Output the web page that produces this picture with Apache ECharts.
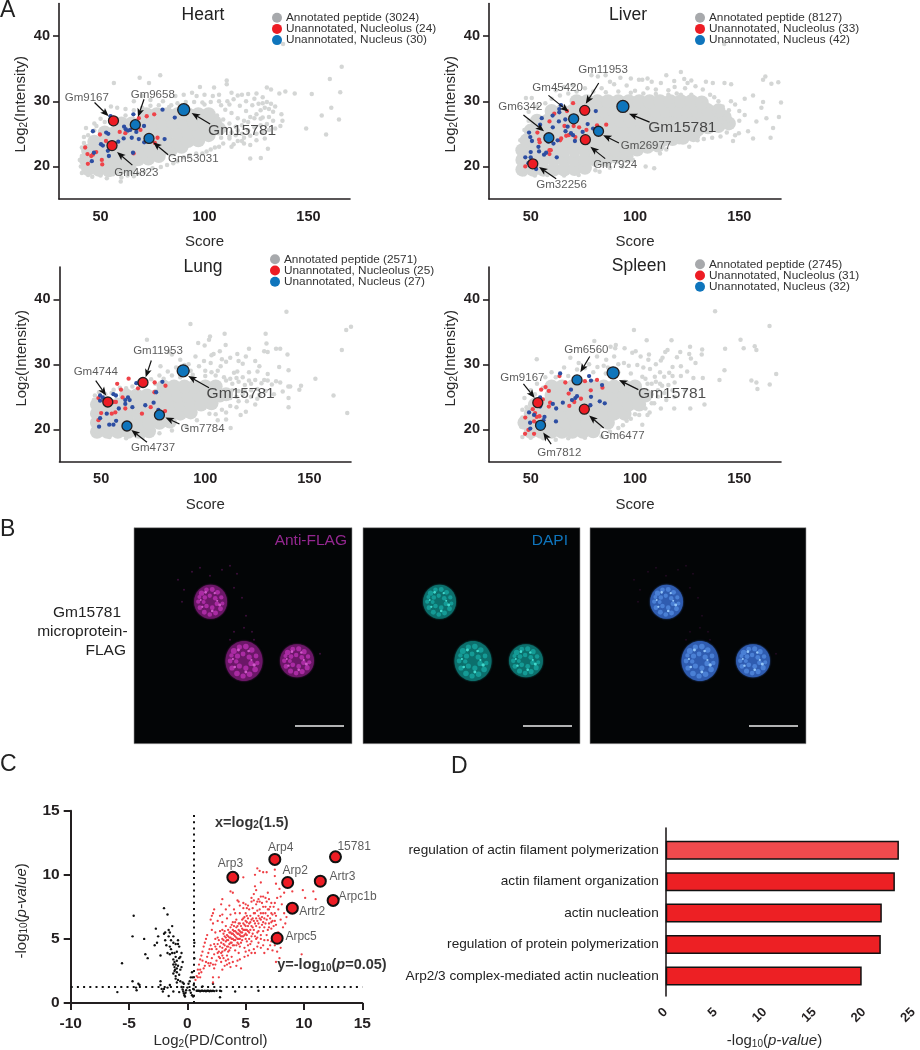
<!DOCTYPE html>
<html><head><meta charset="utf-8">
<style>html,body{margin:0;padding:0;background:#fff}#c{width:920px;height:1050px}</style>
<script src="https://cdn.jsdelivr.net/npm/echarts@6/dist/echarts.min.js"></script>
</head><body><div id="c"></div>
<script>
// ---------- Panel A data ----------
const scoreTicks=[50,100,150], intensityTicks=[20,30,40];
const heartLegend=['Annotated peptide (3024)','Unannotated, Nucleolus (24)','Unannotated, Nucleus (30)'];
const liverLegend=['Annotated peptide (8127)','Unannotated, Nucleolus (33)','Unannotated, Nucleus (42)'];
const lungLegend=['Annotated peptide (2571)','Unannotated, Nucleolus (25)','Unannotated, Nucleus (27)'];
const spleenLegend=['Annotated peptide (2745)','Unannotated, Nucleolus (31)','Unannotated, Nucleus (32)'];

const heartCore=[[44,19.6],[49,19.5],[54,19.4],[59,19.7],[64,19.8],[43,21],[48,21],[53,20.9],[58,21],[63,21],[68,21.1],[73,21.2],[78,21.6],
[44,22.4],[49,22.4],[54,22.4],[59,22.4],[64,22.4],[69,22.4],[74,22.4],[79,22.5],[84,22.6],[89,23],
[47,23.8],[52,23.8],[57,23.8],[62,23.8],[67,23.8],[72,23.8],[77,23.8],[82,23.8],[87,23.8],[92,23.9],[97,24],[102,24.8],
[52,25.2],[57,25.2],[62,25.2],[67,25.2],[72,25.2],[77,25.2],[82,25.2],[87,25.2],[92,25.2],[97,25.2],[102,25.4],[107,25.8],
[60,26.6],[65,26.6],[70,26.6],[75,26.6],[80,26.6],[85,26.6],[90,26.6],[95,26.6],[100,26.6],[105,26.8],
[72,28],[77,28],[82,28],[87,28],[92,28],[97,28],[102,28]];
const heartGray=[[166,35.3],[160.3,33.4],[165.3,31.4],[161,29],[156.4,27.8],[164.7,27.2],[158.5,24.9],[148.9,25.8],[151.6,31.1],[143.4,31.2],[138.9,31.5],[136,31.2],[137.8,38.8],[130,32.1],[132,31.8],[130.5,22.7],[127.1,21.3],[122,21.2],[110.7,33.2],[110.7,32.6],[104.6,32.1],[97.8,32.2],[78.7,34],[68.8,33.6],[56.4,32.8],[59.7,17.7],[73.3,32.8],[96.2,30.8],
[128,29.7],[130,29.9],[132,29.6],[134,29.2],[129,29],[131,28.8],[133,28.4],[127,28.6],[125,28],[122,27.6],[119,27],[116,27.4],[113,28.2],[110,28.7],[108,29.4],[111,30],[114,30.3],[117,29.3],[120,28.5],[123,29.4],[125,31.2],[121,31.1],[118,31],[113,31.3],[107,31],[104,30.8],[100,31],[94,31.3],[90,31],[86,30.8],[137,28],[137.5,27],[136.5,26.2],[133,27],[130,26.5],[127,26.3],[124,26],[121,25.5],[118,25],[115,24.8],[112,24.3],[116,23.9],[119,23.5],[113,23],[107,23],[103,22.6],[99,22],[93,21.7],[87,20.8],[82,20.2],[75,19.7],[68,18.9],[63,18.6],[56,18.8],[50,18.6],[44,18.7],[41,19],[40.5,20],[41,21.6],[41,22.9],[42,24.5],[43,25.9],[47,26.6],[50,27.3],[52,28.3],[55,29.2],[58,29],[62,28.8],[66,30],[70,30.8],[74,30.2],[80,30],[84,29.4],[47,25.5],
[100,29.5],[103,28.6],[106,27.8],[109,27.2],[112,26.6],[115,26.1],[118,26.3],[121,26.8],[124,27.4],[127,27.3],[110,25.6],[113,25.2],[116,25.5],[119,24.4],[122,24.7],[125,25],[128,25.3],[131,25.6],[134,25.8],[128,27.5],[131,27.6],[126,29.6],[128,30.6],[124,30.4],[120,30],[116,30.9],[112,29.5],[107,30],[103,29.9],[99,29.8],[95,29.9],[91,29.9],[87,29.7],[83,29.1],[78,29.4],[74,29.3],[70,29],[66,28.6],[62,27.8],[57,27.2],[52,26.8],[48,26.2],[44,24.8],[42,23.6],[40,21],[46,18.4],[53,18.2],[60,18.3],[66,18.5],[71,19.2],[79,19.9],[85,20.5],[90,21.4],[96,22],[101,22.3],[105,22.9],[109,23.5],[112,24.6],[108,24.4],[114,23.4],[118,23.9],[122,23.3],[125,24],[129,24.3]];
const heartRed=[[42.6,22.9],[43.7,21.9],[45.5,21.6],[46.3,21.8],[47.9,22.2],[43.9,20.4],[50.6,21],[50.8,20.3],[49.7,24.9],[52.6,23.9],[59.2,25.3],[61.9,25.1],[68.4,27.4],[72.2,27.7],[75.8,28],[69.2,25.6],[77.4,24.4],[76.1,23.6],[65.9,22]];
const heartBlue=[[46.3,25.4],[52.7,25.2],[53.7,25],[50.2,23.4],[51.1,23.2],[46.8,22.1],[45.8,20.8],[53.5,22.4],[54,21.6],[58.5,23.8],[61.3,26.1],[62.1,25.7],[63.2,25.5],[64.3,25.6],[61.1,24.3],[65,24.4],[68.4,24.2],[67.2,25.3],[70.9,26.2],[71,23.7],[80.8,24.2],[79.8,28.7],[85.7,27.5],[65.8,28],[65.6,22.1],[54.8,27.7]];
const heartBigRed=[[56.2,27],[55.5,23.2]];
const heartBigBlue=[[66.7,26.4],[73.3,24.3]];
const heartHero=[[90,28.7]];
const heartNames=[['Gm9167',43.4,30.6],['Gm9658',75.1,31],['Gm4823',67.2,19],['Gm53031',94.6,21.2]];
const heartHeroName=[118.1,25.5];
const heartArrows=[[47.1,29.8,53.9,27.7],[70.9,30.3,68,27.6],[65.3,20.2,57.9,22.2],[82.5,21.8,75.3,23.7],[102.7,26.5,93.8,28.2]];

const liverCore=[[46,19.5],[51,19.5],[56,19.5],[61,19.5],[66,19.5],[71,19.6],[76,19.8],
[46,21],[51,21],[56,21],[61,21],[66,21],[71,21],[76,21],[81,21],[86,21],[91,21.5],[96,21.6],
[46,22.5],[51,22.5],[56,22.5],[61,22.5],[66,22.5],[71,22.5],[76,22.5],[81,22.5],[86,22.5],[91,22.5],[96,22.5],[101,22.6],[106,23],[111,23.2],
[48,24],[53,24],[58,24],[63,24],[68,24],[73,24],[78,24],[83,24],[88,24],[93,24],[98,24],[103,24],[108,24],[113,24],[118,24.2],[123,24.4],[128,24.8],
[50,25.5],[55,25.5],[60,25.5],[65,25.5],[70,25.5],[75,25.5],[80,25.5],[85,25.5],[90,25.5],[95,25.5],[100,25.5],[105,25.5],[110,25.5],[115,25.5],[120,25.5],[125,25.5],[130,25.6],[135,26],[140,26.2],[145,26.6],
[53,27],[58,27],[63,27],[68,27],[73,27],[78,27],[83,27],[88,27],[93,27],[98,27],[103,27],[108,27],[113,27],[118,27],[123,27],[128,27],[133,27.2],[138,27.2],[143,27.6],
[60,28.5],[65,28.5],[70,28.5],[75,28.5],[80,28.5],[85,28.5],[90,28.5],[95,28.5],[100,28.5],[105,28.5],[110,28.5],[115,28.5],[120,28.5],[125,28.5],[130,28.5],[135,28.6],[140,28.6],
[72,30],[77,30],[82,30],[87,30],[92,30],[97,30],[102,30],[107,30],[112,30],[117,30],[122,30],[127,30],[132,29.8]];
const liverGray=[[142.8,38.8],[122,34.5],[162.5,33.8],[161.4,33.3],[168.7,32.9],[165.4,32.7],[170,29.8],[169,27.6],[166.2,25.9],[165,24.4],[152.6,30.4],[156.6,30.9],[161.4,29.9],[160.6,29],[163,27.4],[158.2,26.9],[152.6,27.9],[154.2,25.4],[156.6,24.3],[149.8,25.1],[146.1,32.6],[142.9,32.8],[137.3,32.8],[132.5,31.8],[123.6,33.4],[125.2,32.8],[118.8,33.1],[112.4,32.8],[103.5,33.3],[101.9,33.3],[85.9,34],[82.2,33.8],[79.1,34],[109.2,19.7],[105.1,20],[83,19.2],[121.2,23.7],[130,24],[47.7,30.5],[50.5,30.5],
[140,30],[142,29.2],[138,28.4],[136,27],[139,26],[143,27.4],[145,28.6],[147,26.4],[148,24.8],[144,25.2],[141,24.6],[137,24.4],[133,24.2],[126,23],[115,22.6],[112,22],[99,21],[94,20],[88,19.8],[81,19.4],[73,18.7],[66,18.6],[58,18.7],[52,18.6],[47,18.8],[44,19.5],[44,21],[44,22.5],[45,24],[47,25.6],[49,27],[49,28.4],[53,29.2],[57,29.7],[60,30.4],[64,30.9],[68,31.2],[72,31.5],[76,32],[84,32],[90,32.6],[96,32.4],[100,31.6],[106,32],[110,31.8],[116,31.7],[120,31.2],[127,31],[132,30.2],[128,29.8],[118,30],[135,29.4],[148,29.5],[150,28.5],[131,28.5],[115,34],[119,32.2],[127,33.2],[93,33.6],[106,33.5],
[136,31],[129,32.3],[134,33],[124,32],[108,33],[98,33.5],[88,33],[70,32.5],[66,32.2],[62,31.7],[80,31.5],[86,31.4],[92,31.5],[98,31.3],[104,31.2],[110,31.1],[116,31],[122,31],[138,30.6],[146,30],[150,27],[147,23.9]];
const liverRed=[[47.4,20],[53.2,25.2],[54,24.1],[54.3,23.7],[59,26.9],[61.3,28.1],[67.4,28.5],[70.3,29.7],[66.2,26.2],[70.6,26.2],[73.2,26],[71.4,24.5],[68.2,24.8],[67,24.7],[64.6,24.3],[64.1,24],[59,22.5],[59.6,22.5],[59,21.9],[81.8,26.3],[86.2,26.4],[76.7,25.6],[51.6,20]];
const liverBlue=[[47.4,21.4],[50,22.2],[50,21.4],[49.2,25.2],[49.8,24.5],[50.6,23.9],[53.7,23],[54,22.3],[54.5,26.4],[55.3,27.4],[60.5,27.8],[60.6,26],[63.7,28.8],[64.5,29.4],[63.7,28.3],[66.6,27.2],[63.5,26.9],[66.7,25.4],[67.7,26.1],[69.3,25.1],[70.3,24.8],[71.2,23.9],[74.9,25.3],[77.3,26.5],[81.2,28.5],[79.9,25.8],[62.9,24],[60.9,23.5],[58.4,23.8],[57.4,22.1],[62.5,21.4],[56.4,21.8],[52.6,19.6],[48.9,20.5]];
const liverBigRed=[[75.9,28.6],[76.2,24.1],[51,20.4]];
const liverBigBlue=[[58.7,24.4],[70.6,27.3],[82.5,25.4]];
const liverHero=[[94.2,29.2]];
const liverNames=[['Gm11953',84.7,34.8],['Gm45420',62.9,32],['Gm6342',45,29.1],['Gm26977',105.3,23.1],['Gm7924',90.5,20.2],['Gm32256',64.8,17.2]];
const liverHeroName=[122.7,26];
const liverArrows=[[82.6,32.8,76.4,29.6],[58.5,30.9,68.2,28.4],[46.5,27.9,56.4,25.4],[92.3,23.6,84.7,24.8],[85.7,21.2,78.6,23],[62.2,18.1,54,19.9],[107,26.8,97.1,28.1]];

const lungCore=[[48,19.6],[53,19.6],[58,19.6],[63,19.6],[68,19.6],[73,19.7],
[48,21],[53,21],[58,21],[63,21],[68,21],[73,21],[78,21],[83,21.2],
[48,22.4],[53,22.4],[58,22.4],[63,22.4],[68,22.4],[73,22.4],[78,22.4],[83,22.4],[88,22.4],[93,22.6],
[48,23.8],[53,23.8],[58,23.8],[63,23.8],[68,23.8],[73,23.8],[78,23.8],[83,23.8],[88,23.8],[93,23.8],[98,23.8],[103,24],
[62,25.2],[67,25.2],[72,25.2],[77,25.2],[82,25.2],[87,25.2],[92,25.2],[97,25.2],[102,25.2],[107,25.2],[110,25.4],
[80,26.6],[85,26.6],[90,26.6],[95,26.6],[100,26.6],[105,26.6]];
const lungGray=[[139,38.1],[170,35.8],[167.7,35.3],[165.6,32.2],[168.2,22.5],[161.6,25.2],[152.9,27.8],[146,26.7],[145.2,26.1],[139.5,31.5],[140,29.1],[135.5,29.6],[136,32.4],[134,32.4],[129,34.7],[129.4,33.2],[128.3,32],[130,31.9],[121,32.4],[119.5,31.2],[115.4,31.6],[109.3,34.7],[109.8,33],[102.3,34.3],[101.8,33.8],[96.6,33.3],[99.7,32.9],[92.9,36.2],[72,33.8],[82.5,31.9],[84,31.5],[88,30.7],[78.5,29.7],[112.2,20.2],[117,22.2],[119.5,22.7],[140,23.4],[140,24.8],[139.9,26.6],[140.8,26.6],[137.2,25.8],[134,27.4],[136,27.2],[128.3,27.6],[125.1,28.9],[121,28.8],[115.4,28.9],[113.8,28.7],[107.4,29.7],[102.6,30.2],[99.4,30.5],[95.3,31.2],[97,29.7],
[110,27.5],[113,27],[116,27.3],[119,26.8],[122,27],[125,26.2],[118,25.4],[122,25],[116,24.3],[112,23.6],[108,23],[102,22.4],[96,21.4],[91,20.4],[84,19.8],[78,19.4],[70,18.8],[62,18.6],[54,18.8],[48,19],[46.5,19.8],[46,21],[46.5,23],[46.5,24.5],[55,25.6],[59,26.4],[65,26.6],[70,26.8],[76,27],[80,27.8],[84,28.3],[88,28],[94,28.4],[100,28.2],[105,28.3],[92,30],[104,31.6],[107,32],[112,31],[116,30.5],[124,30.5],[130,28.5],[133,25.4],[124,23.8],[110,21.5],[106,21.4],
[100,29],[103,28.8],[106,29],[109,28],[112,27.8],[115,27.9],[118,28],[121,27.5],[124,27.6],[127,27.1],[130,27.5],[132,26.9],[113,26],[116,25.9],[119,25.9],[122,26],[126,25.3],[129,25.9],[115,25],[120,24.3],[125,24.7],[112,24.8],[115,23.4],[110,22.6],[105,22.3],[93,29],[90,29.9],[86,29.5],[82,28.9],[78,28.3],[74,27.7],[68,27.3],[62,26.3],[56,26.1],[52,25.4],[49,25.7],[47,25.2],[110,30.4],[118,30.1],[126,29.7],[103,31.4],[108,30.8]];
const lungRed=[[48.7,24.8],[50,22.5],[48.7,21.4],[55.1,22.4],[56.8,22.6],[57.7,27],[59.5,26.1],[63.2,27.8],[60.3,24.9],[61.6,23.2],[67.7,26.3],[75.7,27.2],[75.6,25.7],[73.8,23.4],[69.6,22.4],[80.7,22.8],[80.9,26.7],[55.9,24.2],[57.1,24.2],[51.4,24.5]];
const lungBlue=[[49.5,25.2],[50.8,24.9],[49.5,24.4],[49,20.4],[49.5,21.7],[52.7,22.4],[53.9,20.7],[55.9,20.7],[57.2,21.3],[55.9,25.4],[57.1,25.2],[58.5,23.2],[61.6,24.5],[61.6,23.9],[62.9,24.9],[63.7,24.5],[65,23.4],[66.9,27.1],[71.2,23.7],[75.2,24.1],[76.4,25.7],[77.5,23],[79.4,27.3]];
const lungBigRed=[[53.2,24.2],[70.1,27.2]];
const lungBigBlue=[[62.4,20.5],[78,22.2]];
const lungHero=[[89.4,29]];
const lungNames=[['Gm11953',77.3,32.1],['Gm4744',47.4,28.8],['Gm7784',98.7,20],['Gm4737',74.9,17.2]];
const lungHeroName=[117,25.4];
const lungArrows=[[74.1,30.6,71.4,28],[47.4,27.5,52.4,25.2],[87.6,20.8,80.9,21.8],[72,18,64.5,19.9],[101.8,26.4,91.8,28.2]];

const spleenCore=[[50,19.6],[55,19.6],[60,19.6],[65,19.6],[70,19.6],[75,19.6],[80,19.7],
[47,21],[52,21],[57,21],[62,21],[67,21],[72,21],[77,21],[82,21],[87,21],
[50,22.4],[55,22.4],[60,22.4],[65,22.4],[70,22.4],[75,22.4],[80,22.4],[85,22.4],[90,22.4],[95,22.4],
[52,23.8],[57,23.8],[62,23.8],[67,23.8],[72,23.8],[77,23.8],[82,23.8],[87,23.8],[92,23.8],[97,23.8],[102,23.8],
[60,25.2],[65,25.2],[70,25.2],[75,25.2],[80,25.2],[85,25.2],[90,25.2],[95,25.2],[100,25.2],[105,25.2],
[60,26.6],[65,26.6],[70,26.6],[75,26.6],[80,26.6],[85,26.6],[90,26.6],[95,26.6],[100,26.6]];
const spleenGray=[[138.4,38.2],[164.5,35.9],[150.6,33.8],[152.1,32.5],[157.4,32.8],[158.2,32.2],[143.2,32.4],[167.7,28.5],[155.8,27.5],[158.2,27.2],[158.7,26.2],[164.6,26.9],[142.9,29.1],[140.5,27.6],[132.5,27.9],[133.3,23.8],[126.5,23.2],[99.5,35.3],[105.6,33.7],[117.5,33.7],[80.5,33.6],[52.9,30.8],[126.4,32.7],[132.2,32.3],[132,31.5],[126,31.6],[129,30.2],[126.8,30.9],[121.7,31.9],[120.1,31.1],[115.6,32.2],[114.5,31.9],[113.2,31],[112.4,30.6],[106.7,31.5],[106.4,30.7],[102.7,31.2],[100.3,32],[98.7,31.8],[95,32.5],[90.8,33],[90.5,32.5],[88.3,32.7],[86.2,30.7],[94.7,30.2],[101.1,29.9],[107.2,29.3],[118,29.6],[122,29.7],[116.4,28.7],[114,28.1],[109.5,28.1],[103.5,28.1],[103.5,20.7],[94.2,20.6],[112.4,23.2],[118.8,23.2],[106,22.2],[109.2,24],[69,31],[72.2,29.2],[81.8,31.2],
[108,25.4],[111,26],[114,25.6],[112,27],[106,27],[118,26],[98,28.6],[92,28.8],[86,28.6],[80,28.8],[76,29.4],[68,28.2],[62,28],[56,26.4],[52,25.4],[48,23.4],[46,21.8],[45.5,20.4],[46,18.8],[50,18.7],[56,18.6],[62,18.4],[68,18.6],[76,18.7],[84,18.9],[88,19.6],[92,20.2],[98,21.6],[102,22.2],[107,22.6],[90,31.2],[85,29.8],
[105,27.8],[108,27],[110,27.3],[113,26.7],[116,26.8],[119,27.2],[122,28.2],[125,28.9],[128,27.9],[119,25],[115,24.5],[111,25],[108,24],[105,23.2],[100,22.3],[96,21.3],[112,28.8],[118,28.2],[124,26],[110,30],[104,29.5],[97,29.8],[92,30],[87,29.5],[82,29.6],[78,30],[73,30.2],[66,29.5],[60,28.8],[57,28],[53,27],[50,26],[47,24.8],[46,23]];
const spleenRed=[[47.4,21.8],[47.3,19.3],[51.6,19.3],[48.9,19.9],[51,23.1],[52.1,22.5],[52.9,21.9],[54.2,22],[55,26.1],[57.1,26.5],[58.7,25.9],[55.8,24.6],[59.3,24.1],[58.7,23.5],[63.8,28.2],[66.6,27.2],[68.2,25.5],[68.5,23.6],[70.9,24.2],[74.1,24.7],[76,27.4],[81.8,27.6],[78.8,26],[84.4,26.4],[51.6,21.2]];
const spleenBlue=[[49.2,22.6],[49.7,21],[51.6,22.2],[49.8,20.1],[54.5,24.9],[54.5,23.5],[56.6,21.9],[56.1,21.4],[60.6,23.9],[62.2,23.2],[62.1,21.2],[65.4,24.1],[64.1,28.6],[69.3,26.1],[69.8,24.5],[71.4,24.8],[72.2,25.1],[78,28.2],[78.9,27.5],[78.9,25],[78.6,23.7],[83.1,24.3],[85.5,24],[84.2,26.8]];
const spleenBigRed=[[53.4,24.1],[75.7,23.1]];
const spleenBigBlue=[[54.7,20.6],[72.2,27.6]];
const spleenHero=[[89.5,28.7]];
const spleenNames=[['Gm6560',76.7,32.2],['Gm9167',46,28],['Gm6477',94,19],['Gm7812',63.7,16.4]];
const spleenHeroName=[117.8,25.4];
const spleenArrows=[[78.3,31.2,73.8,28.8],[46.5,27,51.9,24.8],[85,20.2,78,22.1],[59.8,17.7,56,19.5],[101.6,26.1,92.3,27.6]];

// ---------- Panel C data ----------
const volcanoBlack=[[-6,0.85],[-5.6,3.1],[-4.7,5.2],[-4.6,6.8],[-4.7,1.7],[-4.4,1.2],[-4.35,1],[-4.2,1.5],[-4.1,1.4],[-3.7,5],[-3.6,3.8],[-3.4,3.5],[-2.8,4.5],[-2.7,5.8],[-2.6,4.7],[-2.5,5.2],[-2.3,1.7],[-2.3,1.4],[-2.2,1.1],[-2.1,0.9],[-2.3,3.7],[-2,7.4],[-1.7,6.9],[-2,5.4],[-1.9,4.9],[-1.8,4.5],[-1.7,3.9],[-1.6,5.7],[-1.6,5.2],[-1.5,5.5],[-1.4,4.9],[-1.3,6],[-1.2,5.2],[-1.2,4.7],[-1.1,3.9],[-1,4.6],[-1,3.6],[-0.9,3.3],[-1,3],[-1.1,2.8],[-1.2,2.3],[-1.1,2.5],[-1,2.1],[-0.9,2.7],[-0.8,2.9],[-0.7,3.5],[-0.6,3.6],[-0.7,4.4],[-0.8,4.6],[-0.5,3.9],[-1.4,4.2],[-1.3,3.9],[-1.5,3.8],[-1.2,3.4],[-0.9,4],[-0.8,4.9],[-1.5,4.4],[-1.9,5.5],[-1.1,3.2],[-0.9,2.4],[-0.7,2.2],[-0.6,2.6],[-0.5,2.8],[-0.4,3.2],[-1.2,3],[-1.05,2.6],[-1,1.9],[-0.8,1.8],[-0.6,1.7],[-0.4,1.6],[-0.3,1.5],[-0.9,1.6],[-0.5,1.25],[-0.4,1.05],[-0.35,0.9],[-0.3,0.75],[-0.25,0.6],[-0.2,0.5],[-0.15,0.8],[-0.1,1],[0,1.2],[0.1,1.5],[0.2,1.7],[0.3,2],[0.4,2.4],[0.45,2],[0.2,1],[0.3,0.8],[0.4,0.6],[0.5,1.1],[0.55,1.4],[0.5,0.5],[-1.6,0.55],[-1.7,1.2],[-1.5,1.4],[-2,1.1],[-1.2,0.9],[-0.7,0.85],[0.6,4.7],[0.6,3.5],
[0.8,0.95],[0.9,0.95],[1,0.95],[1.1,0.92],[1.2,0.95],[1.3,0.95],[1.4,0.93],[1.5,0.95],[1.6,0.92],[1.7,0.95],[1.8,0.95],[1.9,0.92],[2,0.95],[2.1,0.93],[2.2,0.95],[2.3,0.93],[2.5,0.95],[2.8,0.95],[2.9,0.93],[2.8,0.45],[4.1,0.9],[6.1,0.95],[1.3,1.3],[2.2,1.5]];
const volcanoRed=[[4.8,9.8],[6,10.5],[6.2,10.3],[5.8,10],[6.5,10.2],[6.8,10.2],[7.5,10.4],[7.5,9.9],[6.3,9.4],[5.8,9.1],[5.9,8.8],[5.7,8.5],[5.5,8.2],[3.7,8.7],[3.9,8.6],[3,8.1],[2.9,7.7],[2.3,7.3],[2.2,7],[2.1,6.8],[2,6.5],[4.3,8],[4.4,7.9],[4.8,7.8],[5,7.7],[5.2,7.6],[5.5,7.9],[6.3,8.3],[6.5,8.3],[6.7,8.2],[7,8.1],[7.2,7.8],[7.4,7.5],[7.5,7],[7.6,6.8],[7.5,7.8],[7.7,8.2],[8.3,8.6],[8,8.3],[9,8.7],[9.9,8.8],[10.1,8.2],[10.8,8.7],[11,8.1],[9.8,3.8],[7.9,3.5],[7.6,3.2],[6.3,4.3],
[0.7,1.8],[0.8,2.1],[0.9,2.6],[1,3],[1.1,3.4],[1.2,3.7],[1.3,4],[1.4,4.4],[1.5,4.7],[1.6,3.2],[1.7,3.6],[1.8,3.9],[1.9,4.2],[1.6,5],[1.7,5.3],[2,4.5],[2,3.1],[2.1,3.5],[2.2,2],[2.1,5.7],[2.2,6.2],[2.3,3.8],[2.3,4.6],[2.4,5],[2.4,5.5],[2.5,3.3],[2.5,4.2],[2.6,4.6],[2.6,5.1],[2.6,6.4],[2.7,3.6],[2.7,4],[2.7,4.9],[2.8,5.6],[2.8,4.4],[2.8,6.8],[2.9,4.7],[2.9,3.9],[2.9,3.2],[3,5],[3,4.3],[3,5.7],[3,6.3],[3.1,4.6],[3.1,3.5],[3.2,5.2],[3.2,4.1],[3.2,5.6],[3.3,4.8],[3.3,3.3],[3.3,6],[3.4,5.3],[3.4,4.4],[3.4,6.6],[3.5,5.7],[3.5,4.9],[3.5,4],[3.6,5.5],[3.6,4.6],[3.6,3.1],[3.7,5.9],[3.7,5.1],[3.7,4.3],[3.7,6.9],[3.8,5.4],[3.8,4.7],[3.8,3.6],[3.9,5.7],[3.9,5],[3.9,6.3],[4,5.3],[4,4.5],[4,6],[4,7.3],[4.1,5.6],[4.1,4.9],[4.1,4.1],[4.2,5.1],[4.2,6.5],[4.2,5.9],[4.3,4.7],[4.3,5.4],[4.3,3.3],[4.4,6.2],[4.4,5.7],[4.4,5],[4.5,7],[4.5,5.3],[4.5,4.4],[4.6,6],[4.6,5.5],[4.6,2.7],[4.7,6.5],[4.7,5.8],[4.7,4.9],[4.8,6.2],[4.8,5.2],[4.8,7.4],[4.9,5.7],[4.9,6.7],[4.9,4.3],[5,6],[5,5.4],[5,7],[5.1,6.3],[5.1,5.7],[5.1,4.8],[5.2,6.6],[5.2,6],[5.2,3.7],[5.3,5.5],[5.3,7.3],[5.4,6.3],[5.4,6.8],[5.4,4.6],[5.5,6],[5.5,5.2],[5.6,6.6],[5.6,7.4],[5.7,5.7],[5.7,4.2],[5.8,6.2],[5.8,7],[5.9,5],[5.9,7.7],[6,6.4],[6,5.5],[6.1,6.8],[6.1,4.7],[6.2,7.3],[6.2,5.9],[6.3,6.5],[6.3,5.3],[6.4,7.8],[6.4,6.1],[6.5,7],[6.5,5.6],[6.6,6.6],[6.6,4.9],[6.7,7.5],[6.7,6.2],[6.8,5.3],[6.8,7.9],[6.9,6.8],[6.9,5.7],[7,7.3],[7,6.2],[7.1,6.6],[7.1,4.5],[7.2,7],[7.2,5.8],[7.3,6.4],[7.3,4.1],[7.4,5.1],[7.5,4.5],[7.6,6.1],[7.7,4],[8,4.3],[8.1,7.7],[8.3,7],[8.4,6.2],[8.5,6.7],
[2.2,1.6],[2.7,2],[3,2.6],[3.2,2.9],[3.4,3],[3.7,2.8],[3.9,3.2],[4.2,2.9],[1.2,2.4],[1.4,2.7],[1.9,2.9],[1.1,2],[2.4,3],[3.5,3.4],[4.4,3.9],[4.9,3.6],[5.3,4.1],[5.8,3.9],[6.6,3.9],[6.9,4.2],[3,6.9],[3.3,7.3],[3.6,7.6],[4.1,7],[4.5,7.6],[5.1,7.4],[5.7,8],[6,7.9],[6.1,8.1],[6.9,8.6],[7.6,9.3],[7.9,8.9],
[2.4,4.4],[2.6,3.9],[2.8,3.5],[3,3.7],[3,4],[3.1,4.9],[3.1,5.4],[3.2,4.5],[3.3,5.1],[3.3,4.2],[3.4,3.7],[3.4,4.9],[3.5,5.2],[3.5,4.4],[3.6,5.1],[3.6,4.1],[3.7,4.7],[3.7,5.5],[3.8,5],[3.8,6.1],[3.9,4.5],[3.9,5.4],[4,4.9],[4,5.6],[4.1,5.2],[4.1,6.3],[4.2,4.5],[4.2,5.5],[4.3,5],[4.3,6],[4.4,5.4],[4.4,4.6],[4.5,5.6],[4.5,5],[4.5,6.2],[4.6,5.2],[4.6,4.7],[4.7,5.5],[4.7,5.2],[4.8,5.7],[4.8,6.6],[4.9,5.3],[4.9,6.1],[5,5],[5,5.7],[5,6.4],[5.1,5.3],[5.1,6.8],[5.2,5.6],[5.2,4.5],[5.3,6.2],[5.3,5],[5.4,5.7],[5.5,6.5],[5.5,4.8],[5.6,5.9],[5.6,5.4],[5.7,6.4],[5.7,7],[5.8,5.2],[5.9,6],[5.9,6.6],[6,5.1],[6,7.2],[6.1,5.6],[6.1,6.2],[6.2,6.6],[6.2,7.9],[6.3,7],[6.4,6.7],[6.5,6.3],[6.5,7.5],[6.6,5.9],[6.7,7],[6.8,6.5],[6.9,7.3],[7,5.9],[7.1,7.5],[7.2,6.3],[7.3,6.9],[7.4,6],[7.5,6.4],[2.1,4.2],[2.2,3],[2.3,2.7],[1.8,3.1],[1.5,2.9],[1.3,3.3],[1.1,2.6],[0.9,2],[1,2.3],[4.5,3.4],[5,4],[5.5,3.9],[6,4.4],[6.3,5],[6.5,4.5],[7.8,5.5],[8.2,5.9],[8,6.5],[7.8,7.3],[6.9,4.9],[7.2,4.8]];
const volcanoHits=[['Arp3',3.9,9.8,3.7,10.85],['Arp4',7.5,11.2,8,12.1],['Arp2',8.6,9.4,9.25,10.3],['Artr3',11.4,9.5,13.3,9.85],['15781',12.7,11.4,14.3,12.2],['Arpc1b',12.5,8,14.6,8.3],['Artr2',9,7.4,10.7,7.1],['Arpc5',7.7,5.05,9.75,5.2]];
const foldThreshold=0.585, pThreshold=1.3;

// ---------- Panel D data ----------
const goTerms=['regulation of actin filament polymerization','actin filament organization','actin nucleation','regulation of protein polymerization','Arp2/3 complex-mediated actin nucleation'];
const goValues=[23.2,22.8,21.5,21.4,19.5];

// ---------- Panel B (micrograph stand-in) ----------
const imagePanels=[[134,352,'#6c1768','#d95fd2','#b52fae'],[363,580,'#0c6f6c','#45e3d6','#16a39d'],[590,806,'#2f5cb0','#9ccfff','#4f86dc']];
const nucleiOffsets=[[76.6,74,16.5,17],[110,133.3,18.5,20],[163,133,17,16.5]];
const meshSpots=[[-.55,-.5,.16],[-.25,-.7,.14],[.1,-.72,.15],[.42,-.55,.15],[.65,-.25,.13],[.72,.1,.12],[.6,.42,.15],[.3,.66,.15],[-.05,.75,.14],[-.38,.62,.15],[-.65,.35,.14],[-.75,0,.13],[-.68,-.28,.12],[-.35,-.25,.14],[-.05,-.35,.13],[.28,-.2,.14],[.38,.12,.14],[.1,.35,.14],[-.25,.25,.14],[-.42,.02,.12]];
const brightSpots=[[-.3,-.55,.08],[.25,-.5,.07],[.55,.2,.09],[-.5,.3,.07],[.1,.55,.08],[.4,-.05,.06],[-.6,-.1,.06]];
const cytoplasmDots=[[44,52],[50,62],[58,44],[66,40],[76,48],[88,42],[96,38],[103,46],[48,74],[100,60],[108,70],[112,88],[100,104],[120,112],[96,112],[110,100],[118,104],[186,126]];

// ---------- build ----------
const FONT='"Liberation Sans",Arial,sans-serif', INK='#231f20', TXT='#2b2b2b';
const panels=[
 {g:{left:59,top:3.5,width:291,height:195.5},legend:heartLegend,lpos:[272,11.7],core:heartCore,gray:heartGray,red:heartRed,blue:heartBlue,bigRed:heartBigRed,bigBlue:heartBigBlue,hero:heartHero,names:heartNames,heroName:heartHeroName,arrows:heartArrows,sg:35,yp:[0,6,0,0]},
 {g:{left:489,top:3.5,width:292,height:195.5},legend:liverLegend,lpos:[695,11.7],core:liverCore,gray:liverGray,red:liverRed,blue:liverBlue,bigRed:liverBigRed,bigBlue:liverBigBlue,hero:liverHero,names:liverNames,heroName:liverHeroName,arrows:liverArrows,sg:35,yp:null,noY:true},
 {g:{left:59.5,top:267,width:291.5,height:194.7},legend:lungLegend,lpos:[270,253.3],core:lungCore,gray:lungGray,red:lungRed,blue:lungBlue,bigRed:lungBigRed,bigBlue:lungBigBlue,hero:lungHero,names:lungNames,heroName:lungHeroName,arrows:lungArrows,sg:36,yp:[0,0,0,12]},
 {g:{left:489,top:267,width:292,height:194.7},legend:spleenLegend,lpos:[695,258.3],core:spleenCore,gray:spleenGray,red:spleenRed,blue:spleenBlue,bigRed:spleenBigRed,bigBlue:spleenBigBlue,hero:spleenHero,names:spleenNames,heroName:spleenHeroName,arrows:spleenArrows,sg:36,yp:[0,0,0,12]}
];
panels[1].yp=[0,6,0,0];
const grid=[],xAxis=[],yAxis=[],series=[],legend=[];
const subRich={sub:{fontSize:10,fontFamily:FONT,color:TXT,verticalAlign:'bottom',padding:[6,0,0,0]},it:{fontSize:15,fontStyle:'italic',fontFamily:FONT,color:TXT},
  bsub:{fontSize:10,fontWeight:'bold',fontFamily:FONT,color:'#000',verticalAlign:'bottom',padding:[6,0,0,0]},bit:{fontSize:14.5,fontWeight:'bold',fontStyle:'italic',fontFamily:FONT,color:'#000'}};
function arrowItem(params,api){
  const a=api.coord([api.value(0),api.value(1)]), b=api.coord([api.value(2),api.value(3)]);
  const dx=b[0]-a[0], dy=b[1]-a[1], len=Math.hypot(dx,dy)||1, ux=dx/len, uy=dy/len, L=8.5, W=3.4, N=6.5;
  const bx=b[0]-ux*L, by=b[1]-uy*L, nx=b[0]-ux*N, ny=b[1]-uy*N;
  return {type:'group',children:[
    {type:'line',shape:{x1:a[0],y1:a[1],x2:nx,y2:ny},style:{stroke:'#111',lineWidth:1.2}},
    {type:'polygon',shape:{points:[[b[0],b[1]],[bx-uy*W,by+ux*W],[nx,ny],[bx+uy*W,by-ux*W]]},style:{fill:'#111'}}
  ]};
}
panels.forEach((p,i)=>{
  grid.push(Object.assign({containLabel:false},p.g));
  xAxis.push({gridIndex:i,type:'value',min:30,max:170,splitLine:{show:false},
    axisLine:{lineStyle:{color:INK,width:1.6}},axisTick:{show:false},
    axisLabel:{customValues:scoreTicks,color:INK,fontWeight:'bold',fontSize:14.5,fontFamily:FONT,margin:10},
    name:'Score',nameLocation:'middle',nameGap:p.sg,nameTextStyle:{fontSize:15,color:TXT,fontFamily:FONT}});
  yAxis.push({gridIndex:i,type:'value',min:15,max:45,splitLine:{show:false},
    axisLine:{onZero:false,lineStyle:{color:INK,width:1.6}},axisTick:{customValues:intensityTicks,length:6,lineStyle:{color:INK,width:1.6}},
    axisLabel:{customValues:intensityTicks,color:INK,fontWeight:'bold',fontSize:14.5,fontFamily:FONT,margin:9},
    name:'Log{sub|2}(Intensity)',nameLocation:'middle',nameGap:30,nameTextStyle:{fontSize:15,color:TXT,fontFamily:FONT,rich:subRich,padding:p.yp}});
  const base={type:'scatter',xAxisIndex:i,yAxisIndex:i,silent:true,animation:false};
  const n=p.legend;
  series.push(Object.assign({},base,{name:n[0],data:p.core,symbolSize:14,itemStyle:{color:'#d4d6d5',opacity:1},z:1,clip:false}));
  series.push(Object.assign({},base,{name:n[0],data:p.gray,symbolSize:4.5,itemStyle:{color:'#d4d6d5',opacity:1},z:1}));
  series.push(Object.assign({},base,{name:n[1],data:p.red,symbolSize:4.3,itemStyle:{color:'#ef4349',opacity:1},z:2}));
  series.push(Object.assign({},base,{name:n[2],data:p.blue,symbolSize:4.3,itemStyle:{color:'#2d4ea2',opacity:1},z:2}));
  const big={itemStyle:{color:'#ed1c24',borderColor:INK,borderWidth:1.3,opacity:1},z:4};
  series.push(Object.assign({},base,big,{name:n[1],data:p.bigRed,symbolSize:10}));
  const bb={itemStyle:{color:'#0f75bc',borderColor:INK,borderWidth:1.3,opacity:1},z:4};
  series.push(Object.assign({},base,bb,{name:n[2],data:p.bigBlue,symbolSize:10}));
  series.push(Object.assign({},base,bb,{name:n[2],data:p.hero,symbolSize:12}));
  series.push({type:'custom',name:'arrows'+i,coordinateSystem:'cartesian2d',xAxisIndex:i,yAxisIndex:i,silent:true,animation:false,z:5,clip:false,
    data:p.arrows,encode:{x:[0,2],y:[1,3]},renderItem:arrowItem});
  const labelData=p.names.map(a=>({name:a[0],value:[a[1],a[2]]}));
  labelData.push({name:'Gm15781',value:p.heroName,label:{fontSize:15.5,color:'#222'}});
  series.push(Object.assign({},base,{name:'labels'+i,data:labelData,symbolSize:1,z:6,itemStyle:{color:'transparent'},
    label:{show:true,position:'inside',formatter:'{b}',fontSize:11.5,fontFamily:FONT,color:'#333'}}));
  legend.push({left:p.lpos[0],top:p.lpos[1],orient:'vertical',selectedMode:false,itemWidth:10,itemHeight:10,itemGap:-0.8,padding:0,icon:'circle',
    data:[{name:n[0],itemStyle:{color:'#a7a9ac',borderWidth:0,opacity:1}},{name:n[1],itemStyle:{color:'#ed1c24',borderWidth:0,opacity:1}},{name:n[2],itemStyle:{color:'#0f75bc',borderWidth:0,opacity:1}}],
    textStyle:{fontSize:11.8,fontFamily:FONT,color:'#333',padding:[0,0,0,-1]},itemStyle:{borderWidth:0}});
});

// Panel C
grid.push({left:70.7,top:810.7,width:291.6,height:194});
xAxis.push({gridIndex:4,type:'value',min:-10,max:15,interval:5,splitLine:{show:false},axisLine:{onZero:false,lineStyle:{color:INK,width:2}},
  axisTick:{length:7,lineStyle:{color:INK,width:2}},axisLabel:{color:INK,fontWeight:'bold',fontSize:15.5,fontFamily:FONT,margin:13},
  name:'Log{sub|2}(PD/Control)',nameLocation:'middle',nameGap:30,nameTextStyle:{fontSize:15,color:TXT,fontFamily:FONT,rich:subRich,padding:[0,12,0,0]}});
yAxis.push({gridIndex:4,type:'value',min:0,max:15,interval:5,splitLine:{show:false},axisLine:{onZero:false,lineStyle:{color:INK,width:2}},
  axisTick:{length:7,lineStyle:{color:INK,width:2}},axisLabel:{color:INK,fontWeight:'bold',fontSize:15.5,fontFamily:FONT,margin:11},
  name:'-log{sub|10}({it|p-value})',nameLocation:'middle',nameGap:41,nameTextStyle:{fontSize:15,color:TXT,fontFamily:FONT,rich:subRich,padding:[0,8,0,0]}});
const cb={type:'scatter',xAxisIndex:4,yAxisIndex:4,silent:true,animation:false};
series.push(Object.assign({},cb,{name:'Not enriched',data:volcanoBlack,symbolSize:2.4,itemStyle:{color:'#111',opacity:1},z:2}));
series.push(Object.assign({},cb,{name:'Enriched',data:volcanoRed,symbolSize:2.3,itemStyle:{color:'#ef3e44',opacity:1},z:2,
  markLine:{silent:true,animation:false,symbol:'none',label:{show:false},z:3,lineStyle:{color:'#111',width:2,type:[2,4.2],opacity:1},data:[{xAxis:foldThreshold},{yAxis:pThreshold}]}}));
series.push(Object.assign({},cb,{name:'Highlighted',data:volcanoHits.map(h=>[h[1],h[2]]),symbolSize:11,itemStyle:{color:'#ed1c24',borderColor:'#111',borderWidth:2,opacity:1},z:4}));
series.push(Object.assign({},cb,{name:'Hit labels',data:volcanoHits.map(h=>({name:h[0],value:[h[3],h[4]]})),symbolSize:1,z:5,itemStyle:{color:'transparent'},
  label:{show:true,position:'inside',formatter:'{b}',fontSize:12,fontFamily:FONT,color:'#333'}}));
const boldText={fontSize:14.5,fontWeight:'bold',fontFamily:FONT,color:'#000',rich:subRich};
series.push(Object.assign({},cb,{name:'Threshold labels',symbolSize:1,z:5,itemStyle:{color:'transparent'},
  data:[{name:'x=log{bsub|2}(1.5)',value:[5.53,14.07]},{name:'y=-log{bsub|10}({bit|p}=0.05)',value:[12.4,2.94]}],
  label:Object.assign({show:true,position:'inside',formatter:'{b}'},boldText)}));

// Panel D: outer frame axis grid
grid.push({left:665.7,width:251.3,top:828,height:168.7});
xAxis.push({gridIndex:5,type:'value',min:0,max:25,interval:5,splitLine:{show:false},axisLine:{lineStyle:{color:INK,width:1.6}},
  axisTick:{length:5,lineStyle:{color:INK,width:1.6}},axisLabel:{rotate:45,color:INK,fontWeight:'bold',fontSize:13,fontFamily:FONT,margin:14,hideOverlap:false},
  name:'-log{sub|10}({it|p-value})',nameLocation:'middle',nameGap:37,nameTextStyle:{fontSize:15,color:TXT,fontFamily:FONT,rich:subRich,padding:[0,0,0,-30]}});
yAxis.push({gridIndex:5,type:'category',data:[''],axisLine:{lineStyle:{color:INK,width:1.6}},axisTick:{show:false},axisLabel:{show:false}});
grid.push({left:665.7,width:251.3,top:834.6,height:157});
xAxis.push({gridIndex:6,type:'value',min:0,max:25,show:false});
yAxis.push({gridIndex:6,type:'category',inverse:true,data:goTerms,axisLine:{show:false},axisTick:{length:5,lineStyle:{color:INK,width:1.6},alignWithLabel:true},
  axisLabel:{fontSize:13.6,color:'#222',fontFamily:FONT,margin:7,interval:0}});
series.push({type:'bar',name:'GO enrichment',xAxisIndex:6,yAxisIndex:6,silent:true,animation:false,barWidth:19,
  data:goValues.map((v,i)=>i===0?{value:v,itemStyle:{color:'#f14a4d'}}:v),itemStyle:{color:'#ed2024',borderColor:'#111',borderWidth:1.5},z:3});

// Panel letters, text and micrograph stand-ins
const graphic=[];
const txt=(x,y,t,size,color,align)=>graphic.push({type:'text',silent:true,x,y,style:{text:t,fontSize:size,fontFamily:FONT,fill:color,align:align||'left',verticalAlign:'middle'}});
txt(0,11,'A',23,'#222');txt(0,530,'B',23,'#222');txt(0,765,'C',23,'#222');txt(451,767,'D',23,'#222');
txt(203,15.5,'Heart',17.5,'#222','center');txt(628,15.5,'Liver',17.5,'#222','center');
txt(203,267,'Lung',17.5,'#222','center');txt(639,266,'Spleen',17.5,'#222','center');
txt(121,613,'Gm15781',15.5,'#222','right');txt(127.6,632,'microprotein-',15.5,'#222','right');txt(126,651,'FLAG',15.5,'#222','right');
imagePanels.forEach((ip,k)=>{
  const L=ip[0],R=ip[1];
  graphic.push({type:'rect',silent:true,z:-5,shape:{x:L,y:527.7,width:R-L,height:216},style:{fill:'#030506',stroke:'#999',lineWidth:.6}});
  if(k!==1) cytoplasmDots.forEach(d=>graphic.push({type:'circle',silent:true,z:-4,shape:{cx:L+d[0],cy:527.7+d[1],r:1},style:{fill:'#4a1247',opacity:k===0?.8:.4}}));
  nucleiOffsets.forEach(n=>{
    const cx=L+n[0], cy=527.7+n[1];
    graphic.push({type:'ellipse',silent:true,z:-4,shape:{cx,cy,rx:n[2],ry:n[3]},style:{fill:ip[2],shadowBlur:2,shadowColor:ip[2]}});
    meshSpots.forEach(s=>graphic.push({type:'circle',silent:true,z:-3,shape:{cx:cx+s[0]*n[2],cy:cy+s[1]*n[3],r:s[2]*n[2]},style:{fill:ip[4],opacity:.85}}));
    brightSpots.forEach(s=>graphic.push({type:'circle',silent:true,z:-2,shape:{cx:cx+s[0]*n[2],cy:cy+s[1]*n[3],r:s[2]*n[2]},style:{fill:ip[3],opacity:.9}}));
  });
  graphic.push({type:'line',silent:true,shape:{x1:R-57,y1:726,x2:R-8,y2:726},style:{stroke:'#eee',lineWidth:1.5}});
});
txt(347,540.7,'Anti-FLAG',15.5,'#93278f','right');txt(568,540.7,'DAPI',15.5,'#0f75bc','right');

const chart=echarts.init(document.getElementById('c'),null,{renderer:'canvas'});
chart.setOption({animation:false,backgroundColor:'#fff',textStyle:{fontFamily:FONT},grid,xAxis,yAxis,series,legend,graphic});
</script></body></html>
